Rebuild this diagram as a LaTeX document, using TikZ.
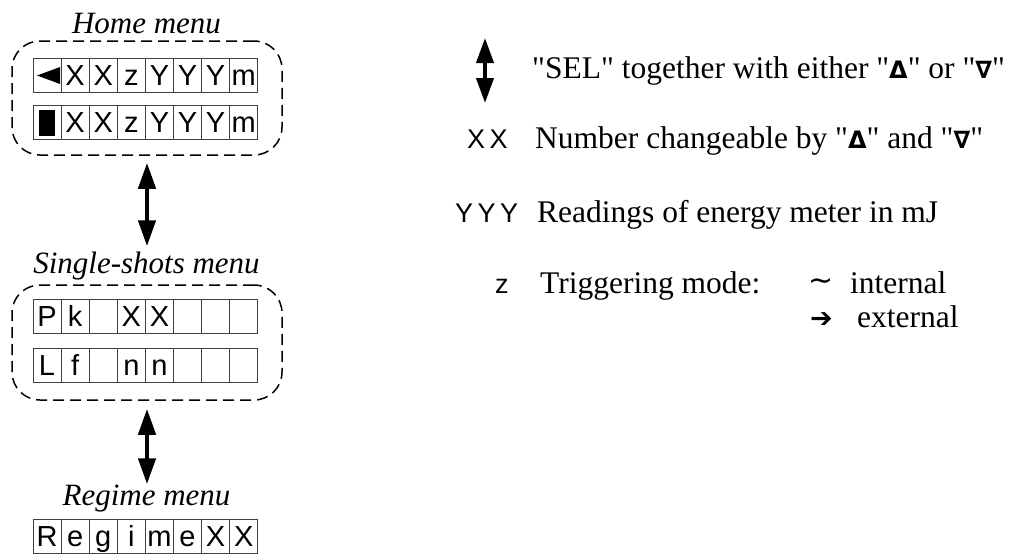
\documentclass[tikz,border=0pt]{standalone}
\usepackage{fontspec}
\setmainfont{Liberation Serif}
\setsansfont{Liberation Sans}
\newfontfamily\symfont{DejaVu Sans}
\usetikzlibrary{arrows.meta}

\newcommand{\qq}{\textquotedbl}
\newcommand{\up}{{\symfont\bfseries\fontsize{24}{24}\selectfont Δ}}
\newcommand{\down}{{\symfont\bfseries\fontsize{24}{24}\selectfont ∇}}

\begin{document}
\begin{tikzpicture}[x=1pt,y=-1pt,
  every node/.style={inner sep=0pt},
  cell/.style={draw=black!75,line width=0.9pt,minimum width=28.1pt,minimum height=34pt,
    text height=20.5pt,text depth=0pt,font=\sffamily\fontsize{29}{29}\selectfont},
  menubox/.style={draw,line width=1.5pt,dash pattern=on 11pt off 6pt,rounded corners=28pt,
    minimum width=270pt},
  menulabel/.style={anchor=base,font=\itshape\fontsize{31}{31}\selectfont},
  legtext/.style={anchor=base west,font=\fontsize{31.5}{31.5}\selectfont},
  legkey/.style={anchor=base west,font=\sffamily\fontsize{27}{27}\selectfont},
  bigarrow/.style={line width=4.5pt,{Triangle[width=17pt,length=26pt]}-{Triangle[width=17pt,length=26pt]}}]
\useasboundingbox (0,0) rectangle (1014,557);

% home menu
\node[menulabel] (homelbl) at (146.5,33) {Home menu};
\node[menubox,minimum height=114pt] (home) at (147,98) {};
\foreach \c [count=\i] in {{},X,X,z,Y,Y,Y,m}
  \node[cell] (homeA-\i) at ({33+28.1*(\i-0.5)},75.5) {\c};
\foreach \c [count=\i] in {{},X,X,z,Y,Y,Y,m}
  \node[cell] (homeB-\i) at ({33+28.1*(\i-0.5)},122.5) {\c};
\fill ([xshift=-10pt]homeA-1.center) -- ++(23,-8.5) -- ++(0,17) -- cycle;
\fill ([shift={(-8,-13)}]homeB-1.center) rectangle ++(16,26);

% single-shots menu
\node[menulabel] (singlelbl) at (146.5,273) {Single-shots menu};
\node[menubox,minimum height=115pt] (single) at (147,342.5) {};
\foreach \c [count=\i] in {P,k,{},X,X,{},{},{}}
  \node[cell] (singleA-\i) at ({33+28.1*(\i-0.5)},316) {\c};
\foreach \c [count=\i] in {L,f,{},n,n,{},{},{}}
  \node[cell] (singleB-\i) at ({33+28.1*(\i-0.5)},365) {\c};

% regime menu
\node[menulabel] (regimelbl) at (146.5,505) {Regime menu};
\foreach \c [count=\i] in {R,e,g,i,m,e,X,X}
  \node[cell] (regime-\i) at ({33+28.1*(\i-0.5)},536.5) {\c};

\draw[bigarrow,shorten <=7pt,shorten >=5pt] (home.south) -- (home.south |- singlelbl.north);
\draw[bigarrow,shorten <=8pt] (single.south) -- (single.south |- regimelbl.north);

% legend
\coordinate (selup) at (485,38);
\coordinate (seldown) at (485,103);
\draw[bigarrow,line width=4pt,{Triangle[width=17pt,length=25pt]}-{Triangle[width=17pt,length=25pt]}] (selup) -- (seldown);
\node[legtext] (sel) at (532,78) {\qq SEL\qq{} together with either \qq\up\qq{} or \qq\down\qq};
\node[legkey] (xxkey) at (467,148) {X\,X};
\node[legtext] (xxtext) at (535,148) {Number changeable by \qq\up\qq{} and \qq\down\qq};
\node[legkey] (yykey) at (455,222) {Y\,Y\,Y};
\node[legtext] (yytext) at (537,222) {Readings of energy meter in mJ};
\node[legkey] (zkey) at (495,293) {z};
\node[legtext] (ztext) at (540,293) {Triggering mode:};
\node[anchor=base west,font=\symfont\fontsize{30}{30}\selectfont] (intsym) at (808,290) {∼};
\node[legtext] (inttext) at (850,293) {internal};
\node[anchor=base west,font=\symfont\fontsize{27}{27}\selectfont] (extsym) at (810,327) {➔};
\node[legtext] (exttext) at (857,327) {external};
\end{tikzpicture}
\end{document}
